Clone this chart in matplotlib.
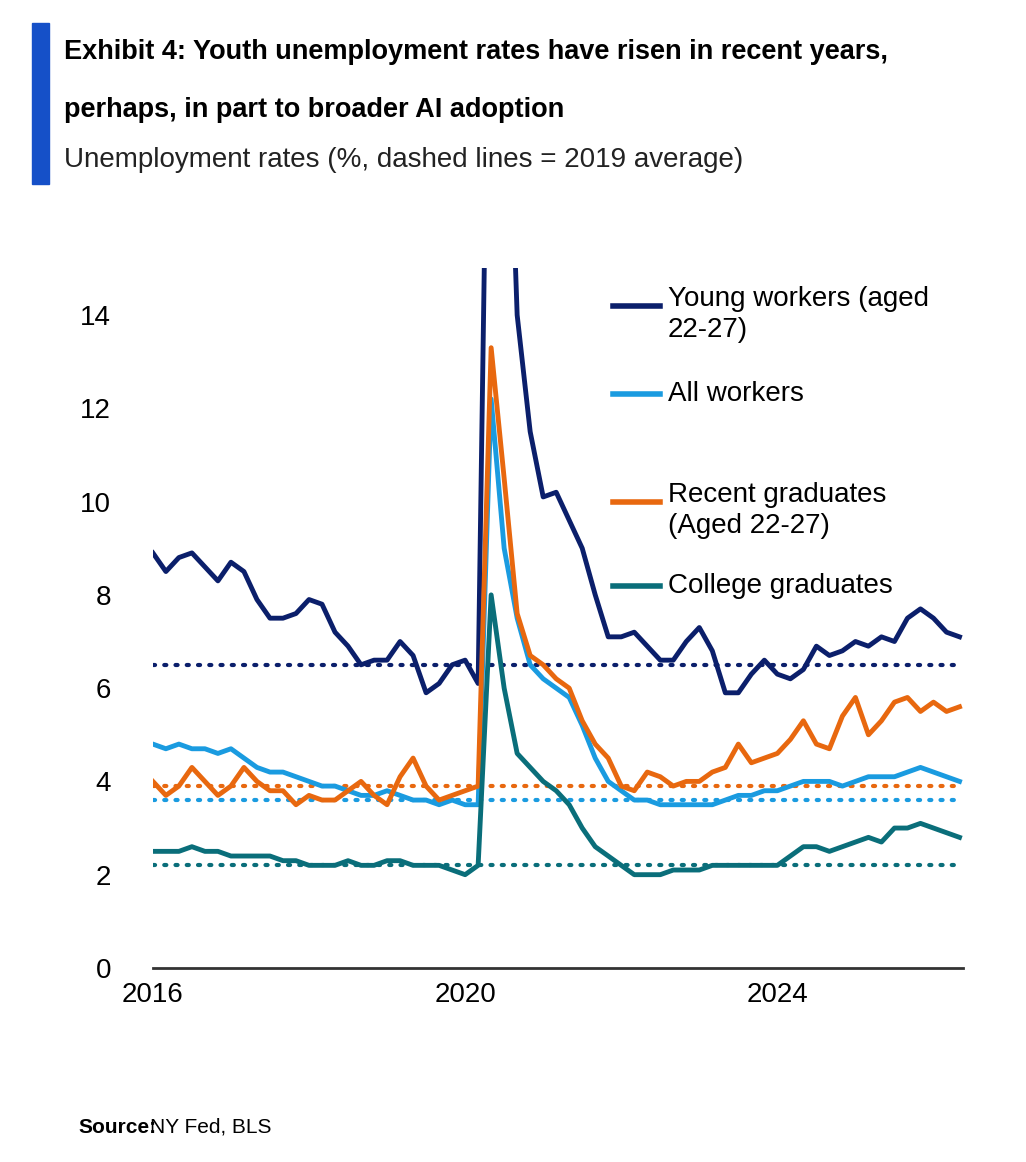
import matplotlib.pyplot as plt
import numpy as np

plt.rcParams['font.family'] = ['Liberation Sans', 'DejaVu Sans']

# two-monthly readings, Jan 2016 .. May 2026
young = [8.9, 8.5, 8.8, 8.9, 8.6, 8.3, 8.7, 8.5, 7.9, 7.5, 7.5, 7.6,
         7.9, 7.8, 7.2, 6.9, 6.5, 6.6, 6.6, 7.0, 6.7, 5.9, 6.1, 6.5,
         6.6, 6.1, 25.0, 22.0, 14.0, 11.5, 10.1, 10.2, 9.6, 9.0, 8.0, 7.1,
         7.1, 7.2, 6.9, 6.6, 6.6, 7.0, 7.3, 6.8, 5.9, 5.9, 6.3, 6.6,
         6.3, 6.2, 6.4, 6.9, 6.7, 6.8, 7.0, 6.9, 7.1, 7.0, 7.5, 7.7,
         7.5, 7.2, 7.1]
all_workers = [4.8, 4.7, 4.8, 4.7, 4.7, 4.6, 4.7, 4.5, 4.3, 4.2, 4.2, 4.1,
               4.0, 3.9, 3.9, 3.8, 3.7, 3.7, 3.8, 3.7, 3.6, 3.6, 3.5, 3.6,
               3.5, 3.5, 12.2, 9.0, 7.5, 6.5, 6.2, 6.0, 5.8, 5.2, 4.5, 4.0,
               3.8, 3.6, 3.6, 3.5, 3.5, 3.5, 3.5, 3.5, 3.6, 3.7, 3.7, 3.8,
               3.8, 3.9, 4.0, 4.0, 4.0, 3.9, 4.0, 4.1, 4.1, 4.1, 4.2, 4.3,
               4.2, 4.1, 4.0]
recent_grads = [4.0, 3.7, 3.9, 4.3, 4.0, 3.7, 3.9, 4.3, 4.0, 3.8, 3.8, 3.5,
                3.7, 3.6, 3.6, 3.8, 4.0, 3.7, 3.5, 4.1, 4.5, 3.9, 3.6, 3.7,
                3.8, 3.9, 13.3, 10.5, 7.6, 6.7, 6.5, 6.2, 6.0, 5.3, 4.8, 4.5,
                3.9, 3.8, 4.2, 4.1, 3.9, 4.0, 4.0, 4.2, 4.3, 4.8, 4.4, 4.5,
                4.6, 4.9, 5.3, 4.8, 4.7, 5.4, 5.8, 5.0, 5.3, 5.7, 5.8, 5.5,
                5.7, 5.5, 5.6]
college_grads = [2.5, 2.5, 2.5, 2.6, 2.5, 2.5, 2.4, 2.4, 2.4, 2.4, 2.3, 2.3,
                 2.2, 2.2, 2.2, 2.3, 2.2, 2.2, 2.3, 2.3, 2.2, 2.2, 2.2, 2.1,
                 2.0, 2.2, 8.0, 6.0, 4.6, 4.3, 4.0, 3.8, 3.5, 3.0, 2.6, 2.4,
                 2.2, 2.0, 2.0, 2.0, 2.1, 2.1, 2.1, 2.2, 2.2, 2.2, 2.2, 2.2,
                 2.2, 2.4, 2.6, 2.6, 2.5, 2.6, 2.7, 2.8, 2.7, 3.0, 3.0, 3.1,
                 3.0, 2.9, 2.8]
avg_2019 = [6.5, 3.6, 3.9, 2.2]
names = ['Young workers (aged\n22-27)', 'All workers', 'Recent graduates\n(Aged 22-27)', 'College graduates']
colors = ['#0b1f6b', '#1a9be0', '#e8680f', '#0a6e7a']
label_y = [14.2, 12.3, 10.0, 8.2]

x = 2016 + np.arange(len(young)) / 6.0

fig = plt.figure(figsize=(10.26, 11.62), dpi=100)
ax = fig.add_axes([0.149, 0.167, 0.79, 0.602])

for s, c, a in zip([young, all_workers, recent_grads, college_grads], colors, avg_2019):
    ax.plot(x, s, color=c, lw=3.5, zorder=3)
    ax.plot([2016, x[-1]], [a, a], color=c, lw=3, ls=(0, (0.5, 2.2)),
            dash_capstyle='round', zorder=2)

for n, c, ly in zip(names, colors, label_y):
    ax.plot([2021.9, 2022.5], [ly, ly], color=c, lw=4, clip_on=False, zorder=4)
    ax.text(2022.6, ly, n, fontsize=20, color='black', va='top' if '\n' in n else 'center',
            zorder=4, linespacing=1.25,
            bbox=dict(facecolor='white', edgecolor='none', pad=2))
    if '\n' in n:
        ax.texts[-1].set_y(ly + 0.42)

ax.set_xlim(2016, x[-1] + 0.05)
ax.set_ylim(0, 15)
ax.set_yticks(range(0, 15, 2))
ax.set_xticks([2016, 2020, 2024])
ax.tick_params(axis='both', length=0, labelsize=20, pad=10)
ax.tick_params(axis='y', pad=30)
for sp in ['top', 'right', 'left']:
    ax.spines[sp].set_visible(False)
ax.spines['bottom'].set_linewidth(2)
ax.spines['bottom'].set_color('#333333')

fig.patches.append(plt.Rectangle((0.031, 0.842), 0.017, 0.138, transform=fig.transFigure,
                                 color='#1550c8'))
fig.text(0.062, 0.955, 'Exhibit 4: Youth unemployment rates have risen in recent years,',
         fontsize=19.5, fontweight='bold', va='center')
fig.text(0.062, 0.905, 'perhaps, in part to broader AI adoption',
         fontsize=19.5, fontweight='bold', va='center')
fig.text(0.062, 0.862, 'Unemployment rates (%, dashed lines = 2019 average)',
         fontsize=20, va='center', color='#222222')
t = fig.text(0.076, 0.03, 'Source:', fontsize=15, va='center', fontweight='bold')
fig.text(0.146, 0.03, 'NY Fed, BLS', fontsize=15, va='center')

plt.savefig('out.png', dpi=100)
